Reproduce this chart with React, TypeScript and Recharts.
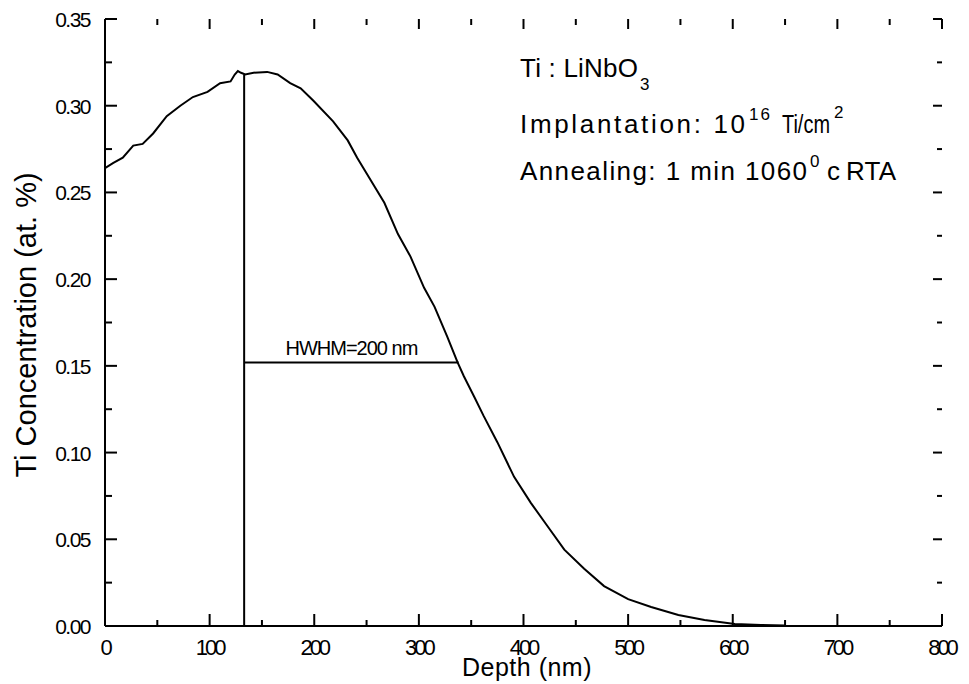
import {
    ComposedChart,
    Customized,
    Line,
    ReferenceLine,
    Scatter,
    XAxis,
    YAxis,
} from 'recharts';

// depth profile
const depthNm = [
    0, 8, 17, 27, 36, 46, 59, 72, 84, 98, 110, 120, 124, 127, 130, 134, 142,
    155, 165, 177, 187, 199, 218, 232, 241, 254, 267, 280, 292, 305, 315, 327,
    337, 343, 353, 362, 375, 391, 407, 423, 439, 458, 477, 500, 522, 548, 573,
    602, 627, 650,
];
const tiConcentration = [
    0.264, 0.267, 0.27, 0.277, 0.278, 0.284, 0.294, 0.3, 0.305, 0.308, 0.313,
    0.314, 0.318, 0.32, 0.319, 0.318, 0.319, 0.3195, 0.318, 0.313, 0.31, 0.303,
    0.291, 0.28, 0.27, 0.257, 0.244, 0.226, 0.213, 0.195, 0.184, 0.167, 0.152,
    0.144, 0.132, 0.121, 0.106, 0.086, 0.071, 0.0575, 0.044, 0.033, 0.023,
    0.0155, 0.011, 0.0063, 0.0034, 0.0011, 0.0006, 0.0003,
];

const xMajorTicks = [0, 100, 200, 300, 400, 500, 600, 700, 800];
const xMinorTicks = [50, 150, 250, 350, 450, 550, 650, 750];
const yMajorTicks = [0, 0.05, 0.1, 0.15, 0.2, 0.25, 0.3, 0.35];
const yMinorTicks = [0.025, 0.075, 0.125, 0.175, 0.225, 0.275, 0.325];

const peakDepth = 133;
const peakValue = 0.318;
const halfDepth = 338;
const halfValue = 0.152;

const X_MAX = 800;
const Y_MAX = 0.35;

const FONT = '"Liberation Sans", Arial, sans-serif';
const AXIS_LINE = { stroke: '#000', strokeWidth: 2 };

const data = depthNm.map((d, i) => ({ depth: d, conc: tiConcentration[i] }));

// anchor points for the inward frame ticks (placed by the chart's own scales)
const bottomTicks = [...xMajorTicks, ...xMinorTicks].map((v) => ({ depth: v, conc: 0, len: v % 100 === 0 ? 12 : 6 }));
const topTicks = [...xMajorTicks, ...xMinorTicks].map((v) => ({ depth: v, conc: Y_MAX, len: v % 100 === 0 ? 10 : 6 }));
const leftTicks = [...yMajorTicks, ...yMinorTicks].map((v) => ({ depth: 0, conc: v, len: yMajorTicks.includes(v) ? 12 : 7 }));
const rightTicks = [...yMajorTicks, ...yMinorTicks].map((v) => ({ depth: X_MAX, conc: v, len: yMajorTicks.includes(v) ? 9 : 5 }));

const tickMark = (dx: number, dy: number) => (p: any) => (
    <line
        x1={p.cx}
        y1={p.cy}
        x2={p.cx + dx * p.payload.len}
        y2={p.cy + dy * p.payload.len}
        stroke="#000"
        strokeWidth={2}
    />
);

function BottomLabel({ x, y, payload }: any) {
    return (
        <text x={x} y={y + 29} textAnchor="middle" fontSize={22} letterSpacing={-3} fontFamily={FONT} fill="#000">
            {payload.value}
        </text>
    );
}

function LeftLabel({ x, y, payload }: any) {
    return (
        <text x={x - 15} y={y + 8} textAnchor="end" fontSize={21} letterSpacing={-1.5} fontFamily={FONT} fill="#000">
            {Number(payload.value).toFixed(2)}
        </text>
    );
}

function Annotations() {
    const t = { fontFamily: FONT, fill: '#000' };
    return (
        <g>
            <text x={520} y={77} fontSize={26} textLength={118} lengthAdjust="spacing" {...t}>Ti : LiNbO</text>
            <text x={640} y={90} fontSize={17} {...t}>3</text>

            <text x={520} y={133} fontSize={26} textLength={225} lengthAdjust="spacing" {...t}>Implantation: 10</text>
            <text x={749} y={120} fontSize={17} letterSpacing={2} {...t}>16</text>
            <text x={782} y={133} fontSize={26} textLength={48} lengthAdjust="spacingAndGlyphs" {...t}>Ti/cm</text>
            <text x={834} y={118} fontSize={17} {...t}>2</text>

            <text x={520} y={180} fontSize={26} textLength={287} lengthAdjust="spacing" {...t}>Annealing: 1 min 1060</text>
            <text x={810} y={167} fontSize={17} {...t}>0</text>
            <text x={827} y={180} fontSize={26} {...t}>c</text>
            <text x={846} y={180} fontSize={26} textLength={50} lengthAdjust="spacing" {...t}>RTA</text>

            <text
                x={36}
                y={325}
                transform="rotate(-90 36 325)"
                textAnchor="middle"
                fontSize={29}
                {...t}
            >
                Ti Concentration (at. %)
            </text>
            <text x={527} y={676} textAnchor="middle" fontSize={25} letterSpacing={0.5} {...t}>
                Depth (nm)
            </text>
        </g>
    );
}

export default function App() {
    return (
        <div style={{ position: 'absolute', left: 0, top: 0, width: 969, height: 684, background: '#fff' }}>
            <ComposedChart
                width={969}
                height={684}
                data={data}
                margin={{ top: 19, right: 27, bottom: 0, left: 0 }}
            >
                <XAxis
                    dataKey="depth"
                    type="number"
                    domain={[0, X_MAX]}
                    ticks={xMajorTicks}
                    interval={0}
                    height={58}
                    tickSize={0}
                    tickMargin={0}
                    tickLine={false}
                    axisLine={AXIS_LINE}
                    tick={BottomLabel}
                />
                <XAxis
                    xAxisId="top"
                    orientation="top"
                    type="number"
                    domain={[0, X_MAX]}
                    height={0}
                    tick={false}
                    tickLine={false}
                    axisLine={AXIS_LINE}
                />
                <YAxis
                    type="number"
                    domain={[0, Y_MAX]}
                    ticks={yMajorTicks}
                    interval={0}
                    width={105}
                    tickSize={0}
                    tickMargin={0}
                    tickLine={false}
                    axisLine={AXIS_LINE}
                    tick={LeftLabel}
                />
                <YAxis
                    yAxisId="right"
                    orientation="right"
                    type="number"
                    domain={[0, Y_MAX]}
                    width={0}
                    tick={false}
                    tickLine={false}
                    axisLine={AXIS_LINE}
                />

                <Scatter data={bottomTicks} dataKey="conc" shape={tickMark(0, -1)} isAnimationActive={false} />
                <Scatter data={topTicks} dataKey="conc" shape={tickMark(0, 1)} isAnimationActive={false} />
                <Scatter data={leftTicks} dataKey="conc" shape={tickMark(1, 0)} isAnimationActive={false} />
                <Scatter data={rightTicks} dataKey="conc" shape={tickMark(-1, 0)} isAnimationActive={false} />

                <ReferenceLine
                    segment={[
                        { x: peakDepth, y: 0 },
                        { x: peakDepth, y: peakValue },
                    ]}
                    stroke="#000"
                    strokeWidth={2}
                />
                <ReferenceLine
                    segment={[
                        { x: peakDepth, y: halfValue },
                        { x: halfDepth, y: halfValue },
                    ]}
                    stroke="#000"
                    strokeWidth={2}
                    label={{
                        value: 'HWHM=200 nm',
                        position: 'top',
                        offset: 7,
                        fontSize: 20,
                        letterSpacing: -1,
                        fontFamily: FONT,
                        fill: '#000',
                    }}
                />
                <Line
                    dataKey="conc"
                    type="linear"
                    stroke="#000"
                    strokeWidth={2}
                    dot={false}
                    activeDot={false}
                    isAnimationActive={false}
                />
                <Customized component={Annotations} />
            </ComposedChart>
        </div>
    );
}
